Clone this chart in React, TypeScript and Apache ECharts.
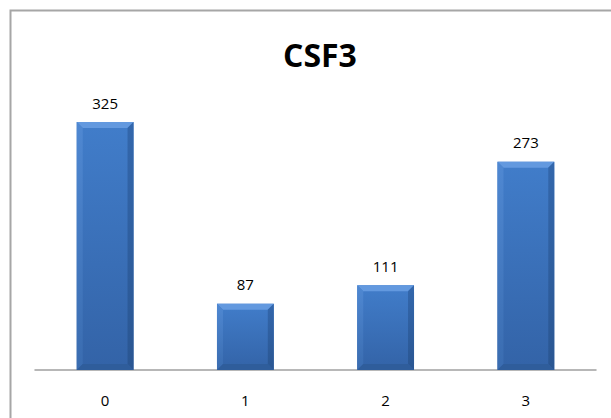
import React, { useEffect, useRef } from "react";
import * as echarts from "echarts";

const categories = ["0", "1", "2", "3"];
const values = [325, 87, 111, 273];
const chartTitle = "CSF3";

export default function App() {
  const ref = useRef<HTMLDivElement>(null);
  useEffect(() => {
    if (!ref.current) return;
    const chart = echarts.init(ref.current, undefined, { renderer: "svg" });
    const renderItem = (params: any, api: any) => {
      const idx = api.value(0);
      const val = api.value(1);
      const top = api.coord([idx, val]);
      const base = api.coord([idx, 0]);
      const w = api.size([1, 0])[0] * 0.405;
      const x0 = top[0] - w / 2;
      const x1 = top[0] + w / 2;
      const y0 = top[1];
      const y1 = base[1];
      const b = 6;
      return {
        type: "group",
        children: [
          {
            type: "rect",
            shape: { x: x0, y: y0, width: w, height: y1 - y0 },
            style: {
              fill: new echarts.graphic.LinearGradient(0, 0, 0, 1, [
                { offset: 0, color: "#417dca" },
                { offset: 1, color: "#3363a7" },
              ]),
            },
          },
          {
            type: "polygon",
            shape: { points: [[x0, y0], [x1, y0], [x1 - b, y0 + b], [x0 + b, y0 + b]] },
            style: { fill: "#6399df" },
          },
          {
            type: "polygon",
            shape: { points: [[x0, y0], [x0 + b, y0 + b], [x0 + b, y1 - b], [x0, y1]] },
            style: {
              fill: new echarts.graphic.LinearGradient(0, 0, 0, 1, [
                { offset: 0, color: "#4f88d2" },
                { offset: 1, color: "#3a6cb0" },
              ]),
            },
          },
          {
            type: "polygon",
            shape: { points: [[x1, y0], [x1 - b, y0 + b], [x1 - b, y1 - b], [x1, y1]] },
            style: {
              fill: new echarts.graphic.LinearGradient(0, 0, 0, 1, [
                { offset: 0, color: "#3367ac" },
                { offset: 1, color: "#2a5692" },
              ]),
            },
          },
          {
            type: "polygon",
            shape: { points: [[x0, y1], [x1, y1], [x1 - b, y1 - b], [x0 + b, y1 - b]] },
            style: { fill: "#2f5d9b" },
          },
          {
            type: "text",
            x: top[0],
            y: y0 - 12,
            style: {
              text: String(val),
              fill: "#000",
              font: "15px 'Open Sans'",
              align: "center",
              verticalAlign: "bottom",
            },
          },
        ],
      };
    };
    chart.setOption({
      animation: false,
      backgroundColor: "#fff",
      title: {
        text: chartTitle,
        left: 278,
        top: 33,
        textStyle: { fontFamily: "Open Sans", fontSize: 32, fontWeight: "bold", color: "#000" },
      },
      graphic: [
        {
          type: "rect",
          shape: { x: 10.5, y: 10.5, width: 700, height: 500 },
          style: { fill: "none", stroke: "#a6a6a6", lineWidth: 2 },
          z: 10,
        },
      ],
      grid: { left: 35, right: 15, top: 103, bottom: 48 },
      xAxis: {
        type: "category",
        data: categories,
        axisLine: { lineStyle: { color: "#a0a0a0", width: 1.5 } },
        axisTick: { show: false },
        axisLabel: { color: "#000", fontFamily: "Open Sans", fontSize: 15, margin: 22 },
      },
      yAxis: {
        type: "value",
        min: 0,
        max: 350,
        show: false,
        splitLine: { show: false },
      },
      series: [
        {
          type: "custom",
          renderItem,
          data: values.map((v, i) => [i, v]),
          encode: { x: 0, y: 1 },
        },
      ],
    });
    return () => chart.dispose();
  }, []);
  return (
    <div
      ref={ref}
      style={{ position: "absolute", left: 0, top: 0, width: 611, height: 418 }}
    />
  );
}
